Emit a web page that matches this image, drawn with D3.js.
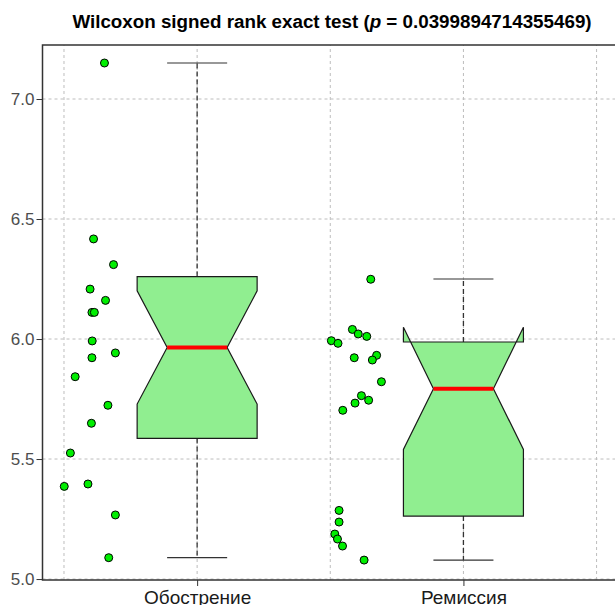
<!DOCTYPE html>
<html>
<head>
<meta charset="utf-8">
<script src="https://cdn.jsdelivr.net/npm/d3@7"></script>
<style>
html,body{margin:0;padding:0;background:#fff;}
svg{display:block;font-family:"Liberation Sans",Arial,sans-serif;}
</style>
</head>
<body>
<svg id="chart" width="615" height="605"></svg>
<script>
// ---- data ----
const categories = ["Обострение", "Ремиссия"];
const categoryPos = [1, 2];
const yTicks = [5.0, 5.5, 6.0, 6.5, 7.0];
const xGrid = [0.5, 1, 1.5, 2, 2.5];

// box statistics
const whiskerLow  = [5.089, 5.079];
const q1          = [5.586, 5.2625];
const notchLow    = [5.729, 5.54];
const median      = [5.965, 5.793];
const notchHigh   = [6.201, 6.049];
const q3          = [6.26, 5.9875];
const whiskerHigh = [7.15, 6.25];

// jittered points (x in category units, y values)
const ptsAx = [0.652,0.611,0.686,0.598,0.656,0.605,0.614,0.606,0.605,0.693,0.542,0.665,0.603,0.524,0.501,0.590,0.693,0.668];
const ptsAy = [7.15,6.417,6.31,6.208,6.161,6.111,6.111,5.992,5.922,5.942,5.843,5.724,5.649,5.525,5.386,5.396,5.267,5.089];
const ptsBx = [1.652,1.583,1.605,1.637,1.504,1.529,1.590,1.674,1.658,1.692,1.617,1.593,1.644,1.547,1.533,1.533,1.517,1.527,1.546,1.627];
const ptsBy = [6.249,6.040,6.021,6.011,5.993,5.982,5.922,5.932,5.9125,5.822,5.764,5.733,5.745,5.703,5.286,5.2375,5.1875,5.1667,5.1375,5.079];

// ---- layout ----
const svg = d3.select("#chart");
const x = d3.scaleLinear().domain([0.4193, 2.6]).range([42.5, 623.2]);
const y = d3.scaleLinear().domain([4.996, 7.225]).range([580, 45]);
const boxHalf = 0.2253, notchHalf = 0.1127, capHalf = 0.1127;

// grid
const grid = svg.append("g");
grid.selectAll("line.h").data(yTicks).enter().append("line")
  .attr("x1", x.range()[0]).attr("x2", x.range()[1])
  .attr("y1", d => y(d)).attr("y2", d => y(d))
  .attr("stroke", "#bdbdbd").attr("stroke-width", 1).attr("stroke-dasharray", "3,3");
grid.selectAll("line.v").data(xGrid).enter().append("line")
  .attr("x1", d => x(d)).attr("x2", d => x(d))
  .attr("y1", y.range()[0]).attr("y2", y.range()[1])
  .attr("stroke", "#bdbdbd").attr("stroke-width", 1).attr("stroke-dasharray", "3,3");

// whiskers
const g = svg.append("g");
categoryPos.forEach((c, i) => {
  g.append("line").attr("x1", x(c)).attr("x2", x(c))
    .attr("y1", y(q3[i])).attr("y2", y(whiskerHigh[i]))
    .attr("stroke", "#333").attr("stroke-width", 1.3).attr("stroke-dasharray", "5,3");
  g.append("line").attr("x1", x(c)).attr("x2", x(c))
    .attr("y1", y(q1[i])).attr("y2", y(whiskerLow[i]))
    .attr("stroke", "#333").attr("stroke-width", 1.3).attr("stroke-dasharray", "5,3");
  [whiskerHigh[i], whiskerLow[i]].forEach(v => {
    g.append("line").attr("x1", x(c - capHalf)).attr("x2", x(c + capHalf))
      .attr("y1", y(v)).attr("y2", y(v))
      .attr("stroke", "#333").attr("stroke-width", 1.2);
  });
  const xl = c - boxHalf, xr = c + boxHalf;
  const poly = [
    [xl, q3[i]], [xl, notchHigh[i]], [xl + notchHalf, median[i]], [xl, notchLow[i]], [xl, q1[i]],
    [xr, q1[i]], [xr, notchLow[i]], [xr - notchHalf, median[i]], [xr, notchHigh[i]], [xr, q3[i]]
  ];
  g.append("path")
    .attr("d", d3.line().x(p => x(p[0])).y(p => y(p[1]))(poly) + "Z")
    .attr("fill", "#90EE90").attr("stroke", "#1a1a1a").attr("stroke-width", 1.2)
    .attr("stroke-linejoin", "miter");
  g.append("line").attr("x1", x(xl + notchHalf)).attr("x2", x(xr - notchHalf))
    .attr("y1", y(median[i])).attr("y2", y(median[i]))
    .attr("stroke", "#ff0000").attr("stroke-width", 4);
});

// points
const pts = [];
ptsAx.forEach((v, i) => pts.push([v, ptsAy[i]]));
ptsBx.forEach((v, i) => pts.push([v, ptsBy[i]]));
svg.append("g").selectAll("circle").data(pts).enter().append("circle")
  .attr("cx", d => x(d[0])).attr("cy", d => y(d[1])).attr("r", 4)
  .attr("fill", "#00ee00").attr("stroke", "#000").attr("stroke-width", 1);

// panel border
svg.append("rect").attr("x", x.range()[0]).attr("y", y.range()[1])
  .attr("width", x.range()[1] - x.range()[0]).attr("height", y.range()[0] - y.range()[1])
  .attr("fill", "none").attr("stroke", "#333").attr("stroke-width", 1.5);

// axes
const yAxis = svg.append("g").attr("transform", `translate(${x.range()[0]},0)`)
  .call(d3.axisLeft(y).tickValues(yTicks).tickFormat(d3.format(".1f")).tickSize(6).tickPadding(2));
yAxis.select(".domain").remove();
yAxis.selectAll("line").attr("stroke", "#333");
yAxis.selectAll("text").attr("fill", "#4d4d4d").style("font-size", "17px")
  .style("font-family", "Liberation Sans, Arial, sans-serif");

const xAxis = svg.append("g").attr("transform", `translate(0,${y.range()[0]})`)
  .call(d3.axisBottom(x).tickValues(categoryPos).tickFormat((d, i) => categories[i]).tickSize(6).tickPadding(5));
xAxis.select(".domain").remove();
xAxis.selectAll("line").attr("stroke", "#333");
xAxis.selectAll("text").attr("fill", "#1a1a1a").style("font-size", "19px")
  .style("font-family", "Liberation Sans, Arial, sans-serif");

// title
const t = svg.append("text").attr("x", 332).attr("y", 28).attr("text-anchor", "middle")
  .style("font-size", "18.8px").style("font-weight", "bold").attr("fill", "#000");
t.append("tspan").text("Wilcoxon signed rank exact test (");
t.append("tspan").style("font-style", "italic").text("p");
t.append("tspan").text(" = 0.0399894714355469)");
</script>
</body>
</html>
